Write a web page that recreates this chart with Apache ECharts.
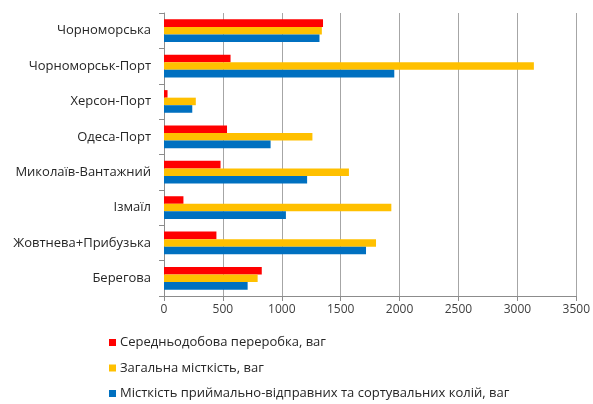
<!DOCTYPE html>
<html>
<head>
<meta charset="utf-8">
<script src="https://cdn.jsdelivr.net/npm/echarts@6/dist/echarts.min.js"></script>
<style>
  html, body { margin: 0; padding: 0; background: #fff; }
  #chart { width: 593px; height: 404px; }
</style>
</head>
<body>
<div id="chart"></div>
<script>
// Stations, listed top to bottom
const stations = [
  'Чорноморська',
  'Чорноморськ-Порт',
  'Херсон-Порт',
  'Одеса-Порт',
  'Миколаїв-Вантажний',
  'Ізмаїл',
  'Жовтнева+Прибузька',
  'Берегова'
];

// Average daily handling, wagons
const dailyHandling = [1350, 565, 30, 535, 480, 165, 445, 830];
// Total capacity, wagons
const totalCapacity = [1340, 3140, 270, 1260, 1570, 1930, 1800, 795];
// Capacity of receiving-departure and sorting tracks, wagons
const trackCapacity = [1320, 1955, 240, 905, 1215, 1035, 1715, 710];

const seriesNames = [
  'Середньодобова переробка, ваг',
  'Загальна місткість, ваг',
  'Місткість приймально-відправних та сортувальних колій, ваг'
];
const seriesColors = ['#ff0000', '#ffc000', '#0070c0'];
const seriesValues = [dailyHandling, totalCapacity, trackCapacity];

const font = 'Open Sans, Liberation Sans, sans-serif';

const chart = echarts.init(document.getElementById('chart'), null, { renderer: 'canvas' });

// One legend entry per row, stacked under the plot
const legends = seriesNames.map((name, i) => ({
  orient: 'vertical',
  left: 104,
  top: 331 + i * 25.5,
  itemWidth: 7,
  itemHeight: 7,
  icon: 'rect',
  textStyle: { fontFamily: font, fontSize: 13, color: '#262626', padding: [0, 0, 0, -1] },
  data: [name]
}));

chart.setOption({
  animation: false,
  backgroundColor: '#ffffff',
  grid: { left: 164, right: 13, top: 13, bottom: 108, containLabel: false },
  legend: legends,
  xAxis: {
    type: 'value',
    min: 0,
    max: 3500,
    interval: 500,
    axisLine: { show: true, lineStyle: { color: '#8c8c8c' } },
    axisTick: { show: true, length: 5, lineStyle: { color: '#8c8c8c' } },
    axisLabel: {
      fontFamily: font, fontSize: 12, color: '#404040', margin: 8,
      formatter: v => String(v)
    },
    splitLine: { show: true, lineStyle: { color: '#a6a6a6', width: 1 } }
  },
  yAxis: {
    type: 'category',
    data: stations,
    inverse: true,
    axisLine: { show: true, lineStyle: { color: '#8c8c8c' } },
    axisTick: { show: true, length: 5, inside: false, lineStyle: { color: '#8c8c8c' } },
    axisLabel: { fontFamily: font, fontSize: 13, color: '#262626', margin: 13 }
  },
  series: seriesValues.map((vals, i) => ({
    name: seriesNames[i],
    type: 'bar',
    data: vals,
    itemStyle: { color: seriesColors[i] },
    barGap: '0%',
    barCategoryGap: '36%'
  }))
});
</script>
</body>
</html>
